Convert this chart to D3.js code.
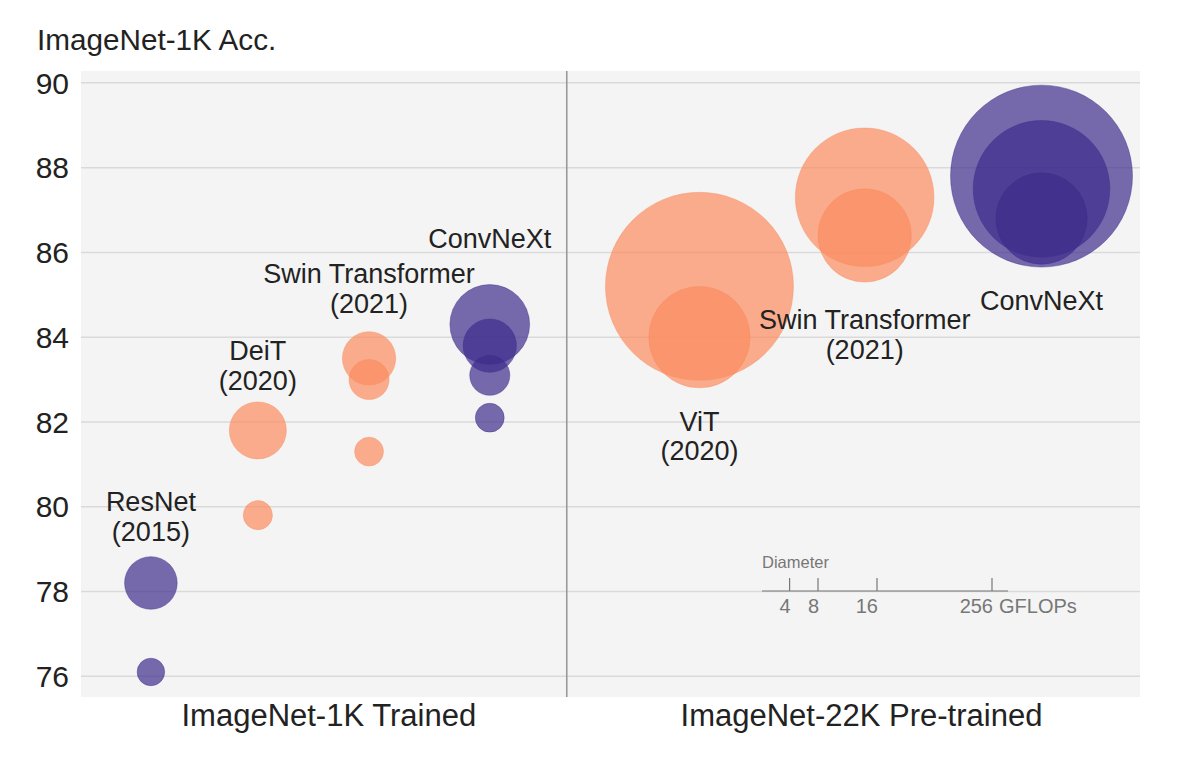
<!DOCTYPE html>
<html>
<head>
<meta charset="utf-8">
<script src="https://cdn.jsdelivr.net/npm/d3@7"></script>
<style>
  html, body { margin: 0; padding: 0; background: #ffffff; }
  svg { display: block; font-family: "Liberation Sans", Arial, Helvetica, sans-serif; }
</style>
</head>
<body>
<div id="chart"></div>
<script>
// ---------------- data ----------------
const models     = ["ResNet-50", "ResNet-200", "DeiT-S", "DeiT-B", "Swin-T", "Swin-S", "Swin-B",
                    "ConvNeXt-T", "ConvNeXt-S", "ConvNeXt-B", "ConvNeXt-L",
                    "ViT-L/16", "ViT-B/16", "Swin-L 22K", "Swin-B 22K",
                    "ConvNeXt-XL 22K", "ConvNeXt-L 22K", "ConvNeXt-B 22K"];
const modelType  = ["conv", "conv", "trans", "trans", "trans", "trans", "trans",
                    "conv", "conv", "conv", "conv",
                    "trans", "trans", "trans", "trans",
                    "conv", "conv", "conv"];
const modelSlot  = [0.66, 0.66, 1.67, 1.67, 2.72, 2.72, 2.72,
                    3.86, 3.86, 3.86, 3.86,
                    5.84, 5.84, 7.40, 7.40,
                    9.07, 9.07, 9.07];
const accuracy   = [76.1, 78.2, 79.8, 81.8, 81.3, 83.0, 83.5,
                    82.1, 83.1, 83.8, 84.3,
                    85.2, 84.0, 87.3, 86.4,
                    87.8, 87.5, 86.8];
const gflops     = [4.1, 15.0, 4.6, 17.6, 4.5, 8.7, 15.4,
                    4.5, 8.7, 15.4, 34.4,
                    191.1, 55.5, 103.9, 47.1,
                    179.0, 101.0, 45.1];

// family annotations
const labelLines = [["ResNet", "(2015)"], ["DeiT", "(2020)"], ["Swin Transformer", "(2021)"], ["ConvNeXt"],
                    ["ViT", "(2020)"], ["Swin Transformer", "(2021)"], ["ConvNeXt"]];
const labelSlot  = [0.66, 1.67, 2.72, 3.86, 5.84, 7.40, 9.07];
const labelAcc   = [79.89, 83.46, 85.27, 86.10, 81.79, 84.19, 84.64];

// sections
const sectionNames = ["ImageNet-1K Trained", "ImageNet-22K Pre-trained"];
const sectionSlot  = [2.34, 7.37];
const dividerSlot  = 4.587;

// axis
const yTicks = [76, 78, 80, 82, 84, 86, 88, 90];
const yTitle = "ImageNet-1K Acc.";

// size legend
const legendTitle = "Diameter";
const legendTicks = [4, 8, 16, 256];
const legendUnit  = "GFLOPs";

// ---------------- layout ----------------
const W = 1184, H = 766;
const plot = { left: 81, right: 1140, top: 71, bottom: 697 };

const svg = d3.select("#chart").append("svg").attr("width", W).attr("height", H);

const x = d3.scaleLinear().domain([0, 10]).range([plot.left, plot.right]);
const y = d3.scaleLinear().domain([75.51, 90.28]).range([plot.bottom, plot.top]);
const r = d3.scaleSqrt().domain([0, 256]).range([0, 108.8]);
const fill = d3.scaleOrdinal().domain(["conv", "trans"]).range(["rgb(62,44,140)", "rgb(251,139,96)"]);

// background
svg.append("rect")
  .attr("x", plot.left).attr("y", plot.top)
  .attr("width", plot.right - plot.left).attr("height", plot.bottom - plot.top)
  .attr("fill", "#f4f4f4");

// gridlines
svg.append("g").selectAll("line").data(yTicks).join("line")
  .attr("x1", plot.left).attr("x2", plot.right)
  .attr("y1", d => y(d)).attr("y2", d => y(d))
  .attr("stroke", "#dadada").attr("stroke-width", 1.5);

// y tick labels
svg.append("g").selectAll("text").data(yTicks).join("text")
  .attr("x", 69).attr("y", d => y(d)).attr("dy", "0.36em")
  .attr("text-anchor", "end").attr("font-size", 30).attr("fill", "#222")
  .text(d => d);

// y title
svg.append("text").attr("x", 37).attr("y", 50)
  .attr("font-size", 29.7).attr("fill", "#222").text(yTitle);

// divider
svg.append("line")
  .attr("x1", x(dividerSlot)).attr("x2", x(dividerSlot))
  .attr("y1", plot.top).attr("y2", plot.bottom)
  .attr("stroke", "#9a9a9a").attr("stroke-width", 1.6);

// bubbles
const idx = d3.range(models.length);
svg.append("g").selectAll("circle").data(idx).join("circle")
  .attr("cx", i => x(modelSlot[i]))
  .attr("cy", i => y(accuracy[i]))
  .attr("r", i => r(gflops[i]))
  .attr("fill", i => fill(modelType[i]))
  .attr("fill-opacity", 0.7)
  .attr("stroke", i => fill(modelType[i]))
  .attr("stroke-opacity", 0.4)
  .attr("stroke-width", 1);

// annotations
const lab = svg.append("g").selectAll("text").data(d3.range(labelLines.length)).join("text")
  .attr("text-anchor", "middle").attr("font-size", 27).attr("fill", "#222")
  .attr("x", i => x(labelSlot[i])).attr("y", i => y(labelAcc[i]));
lab.each(function(i) {
  d3.select(this).selectAll("tspan").data(labelLines[i]).join("tspan")
    .attr("x", x(labelSlot[i]))
    .attr("dy", (d, k) => k === 0 ? 0 : 29.5)
    .text(d => d);
});

// section names
svg.append("g").selectAll("text").data(sectionNames).join("text")
  .attr("x", (d, i) => x(sectionSlot[i])).attr("y", 726)
  .attr("text-anchor", "middle").attr("font-size", 31).attr("fill", "#222")
  .text(d => d);

// size legend
const lg = svg.append("g").attr("transform", `translate(762, 591)`);
const lx = d3.scaleLinear().domain([0, 4, 8, 16, 256]).range([0, 27.6, 56, 115, 230]);
lg.append("text").attr("x", 0).attr("y", -23).attr("font-size", 16.5).attr("fill", "#777").text(legendTitle);
lg.append("line").attr("x1", 0).attr("x2", 246).attr("y1", 0).attr("y2", 0)
  .attr("stroke", "#777").attr("stroke-width", 1.2);
lg.selectAll("line.tk").data(legendTicks).join("line").attr("class", "tk")
  .attr("x1", d => lx(d)).attr("x2", d => lx(d)).attr("y1", -13).attr("y2", 0)
  .attr("stroke", "#777").attr("stroke-width", 1.2);
lg.selectAll("text.tl").data(legendTicks).join("text").attr("class", "tl")
  .attr("x", d => lx(d) + 1).attr("y", 22).attr("text-anchor", "end")
  .attr("font-size", 20).attr("fill", "#777").text(d => d);
lg.append("text").attr("x", lx(256) + 7).attr("y", 22)
  .attr("font-size", 20).attr("fill", "#777").text(legendUnit);
</script>
</body>
</html>
